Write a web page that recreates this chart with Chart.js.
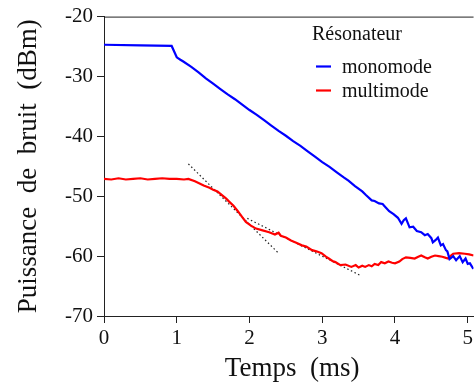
<!DOCTYPE html>
<html>
<head>
<meta charset="utf-8">
<script src="https://cdn.jsdelivr.net/npm/chart.js@4"></script>
<style>
  html, body { margin: 0; padding: 0; background: #fff; }
  #wrap { width: 476px; height: 385px; }
</style>
</head>
<body>
<div id="wrap"><canvas id="bruitChart" width="476" height="385"></canvas></div>
<script>
// valeurs (temps en ms, puissance en dBm)
const monoTemps = [0, 0.5, 0.93, 1.0, 1.05, 1.09, 1.2, 1.3, 1.4, 1.5, 1.6, 1.7, 1.8, 1.9, 2.0,
  2.1, 2.2, 2.3, 2.4, 2.5, 2.6, 2.7, 2.8, 2.9, 3.0, 3.1, 3.2, 3.3, 3.36, 3.45, 3.55, 3.6,
  3.68, 3.72, 3.78, 3.83, 3.86, 3.92, 3.98, 4.04, 4.09, 4.12, 4.15, 4.2, 4.25, 4.3, 4.36,
  4.41, 4.45, 4.5, 4.52, 4.56, 4.59, 4.63, 4.66, 4.7, 4.72, 4.75, 4.8, 4.84, 4.89, 4.93,
  4.97, 5.0, 5.03, 5.07, 5.08];
const monoDbm = [-24.7, -24.8, -24.9, -26.8, -27.2, -27.5, -28.4, -29.3, -30.3, -31.2, -32.1,
  -33.0, -33.8, -34.7, -35.6, -36.4, -37.3, -38.2, -39.1, -39.9, -40.8, -41.6, -42.5, -43.4,
  -44.3, -45.1, -46.0, -46.9, -47.4, -48.3, -49.2, -49.8, -50.7, -50.8, -51.2, -51.3, -51.7,
  -52.5, -53.0, -53.6, -54.6, -54.0, -53.7, -55.2, -55.1, -55.8, -56.0, -56.5, -56.3, -57.0,
  -57.7, -57.3, -56.9, -58.2, -58.0, -59.0, -59.2, -60.5, -60.0, -60.7, -60.0, -61.0, -60.4,
  -61.3, -61.2, -62.0, -62.1];

const multiTemps = [0, 0.1, 0.2, 0.3, 0.4, 0.5, 0.6, 0.7, 0.8, 0.9, 1.0, 1.1, 1.16, 1.25, 1.37,
  1.45, 1.5, 1.56, 1.6, 1.68, 1.72, 1.78, 1.84, 1.9, 1.95, 2.02, 2.09, 2.18, 2.27, 2.35, 2.4,
  2.43, 2.5, 2.57, 2.65, 2.72, 2.78, 2.86, 2.92, 2.99, 3.05, 3.09, 3.14, 3.18, 3.25, 3.32,
  3.4, 3.46, 3.5, 3.55, 3.59, 3.64, 3.68, 3.72, 3.77, 3.81, 3.86, 3.91, 3.96, 4.0, 4.06, 4.1,
  4.15, 4.21, 4.27, 4.32, 4.36, 4.41, 4.45, 4.5, 4.55, 4.6, 4.65, 4.7, 4.73, 4.77, 4.8, 4.88,
  4.96, 5.02, 5.08];
const multiDbm = [-47.1, -47.2, -47.0, -47.2, -47.1, -47.0, -47.2, -47.1, -47.0, -47.1, -47.1,
  -47.2, -47.1, -47.5, -48.2, -48.6, -48.9, -49.2, -49.6, -50.4, -50.9, -51.6, -52.5, -53.5,
  -54.3, -54.9, -55.4, -55.7, -56.0, -56.4, -56.1, -56.6, -56.9, -57.4, -57.8, -58.2, -58.4,
  -59.0, -59.2, -59.5, -60.1, -60.4, -60.8, -61.0, -61.5, -61.4, -61.8, -61.5, -61.9, -61.6,
  -61.8, -61.5, -61.7, -61.3, -61.5, -61.0, -61.2, -60.9, -61.1, -61.2, -60.9, -60.5, -60.2,
  -60.3, -60.4, -60.1, -59.9, -60.2, -60.4, -60.1, -59.9, -60.0, -60.1, -60.3, -60.4, -59.9,
  -59.6, -59.5, -59.6, -59.7, -59.9];

// tangentes en pointillés (deux points chacune)
const tangente1Temps = [1.16, 2.39];
const tangente1Dbm = [-44.6, -59.4];
const tangente2Temps = [1.97, 3.52];
const tangente2Dbm = [-53.7, -63.2];

const xTicks = [0, 1, 2, 3, 4, 5];
const yTicks = [-20, -30, -40, -50, -60, -70];

const serif = '"Liberation Serif", "DejaVu Serif", serif';

function pts(xs, ys) {
    return xs.map((x, i) => ({ x: x, y: ys[i] }));
}

// légende dessinée à la main dans la zone du graphe
const legendePlugin = {
    id: 'legende',
    afterDraw(chart) {
        const c = chart.ctx;
        const area = chart.chartArea;
        c.save();
        // trait du haut
        c.strokeStyle = '#222';
        c.lineWidth = 1;
        c.beginPath();
        c.moveTo(area.left, area.top + 0.5);
        c.lineTo(area.right, area.top + 0.5);
        c.stroke();

        c.fillStyle = '#111';
        c.textBaseline = 'alphabetic';
        c.font = '20px ' + serif;
        c.fillText('Résonateur', 312, 39.5);
        const rows = [72.5, 96.5];
        chart.data.datasets.slice(0, 2).forEach((ds, i) => {
            c.strokeStyle = ds.borderColor;
            c.lineWidth = 2.2;
            c.beginPath();
            c.moveTo(316, rows[i] - 6);
            c.lineTo(331, rows[i] - 6);
            c.stroke();
            c.fillText(ds.label, 342, rows[i]);
        });
        c.restore();
    }
};

const ctx = document.getElementById('bruitChart').getContext('2d');

const bruitChart = new Chart(ctx, {
    type: 'line',
    data: {
        datasets: [{
            label: 'monomode',
            data: pts(monoTemps, monoDbm),
            borderColor: '#0000ff',
            borderWidth: 2.2,
            pointRadius: 0,
            tension: 0
        }, {
            label: 'multimode',
            data: pts(multiTemps, multiDbm),
            borderColor: '#ff0000',
            borderWidth: 2.2,
            pointRadius: 0,
            tension: 0
        }, {
            label: 'tangente1',
            data: pts(tangente1Temps, tangente1Dbm),
            borderColor: '#222',
            borderWidth: 1.2,
            borderDash: [1.5, 2.5],
            pointRadius: 0
        }, {
            label: 'tangente2',
            data: pts(tangente2Temps, tangente2Dbm),
            borderColor: '#222',
            borderWidth: 1.2,
            borderDash: [1.5, 2.5],
            pointRadius: 0
        }]
    },
    options: {
        responsive: false,
        animation: false,
        layout: { padding: { top: 15, right: 0, left: 0, bottom: 0 } },
        plugins: {
            legend: { display: false },
            tooltip: { enabled: false }
        },
        scales: {
            x: {
                type: 'linear',
                min: 0,
                max: 5.08,
                afterFit: s => { s.height = 69; },
                afterBuildTicks: s => { s.ticks = xTicks.map(v => ({ value: v })); },
                grid: { drawOnChartArea: false, drawTicks: true, tickLength: 7, tickColor: '#222' },
                border: { color: '#222', width: 1 },
                ticks: {
                    color: '#111',
                    padding: 3,
                    maxRotation: 0,
                    font: { family: serif, size: 21 }
                },
                title: {
                    display: true,
                    text: ' Temps  (ms)',
                    color: '#111',
                    padding: { top: 0, bottom: 0 },
                    font: { family: serif, size: 27 }
                }
            },
            y: {
                min: -70,
                max: -20,
                afterFit: s => { s.width = 104; },
                afterBuildTicks: s => { s.ticks = yTicks.map(v => ({ value: v })); },
                grid: { drawOnChartArea: false, drawTicks: true, tickLength: 7, tickColor: '#222' },
                border: { color: '#222', width: 1 },
                ticks: {
                    color: '#111',
                    padding: 4,
                    font: { family: serif, size: 21 },
                    callback: v => String(v)
                },
                title: {
                    display: true,
                    text: 'Puissance  de  bruit  (dBm)',
                    color: '#111',
                    padding: { top: 13, bottom: 0 },
                    font: { family: serif, size: 27 }
                }
            }
        }
    },
    plugins: [legendePlugin]
});
</script>
</body>
</html>
